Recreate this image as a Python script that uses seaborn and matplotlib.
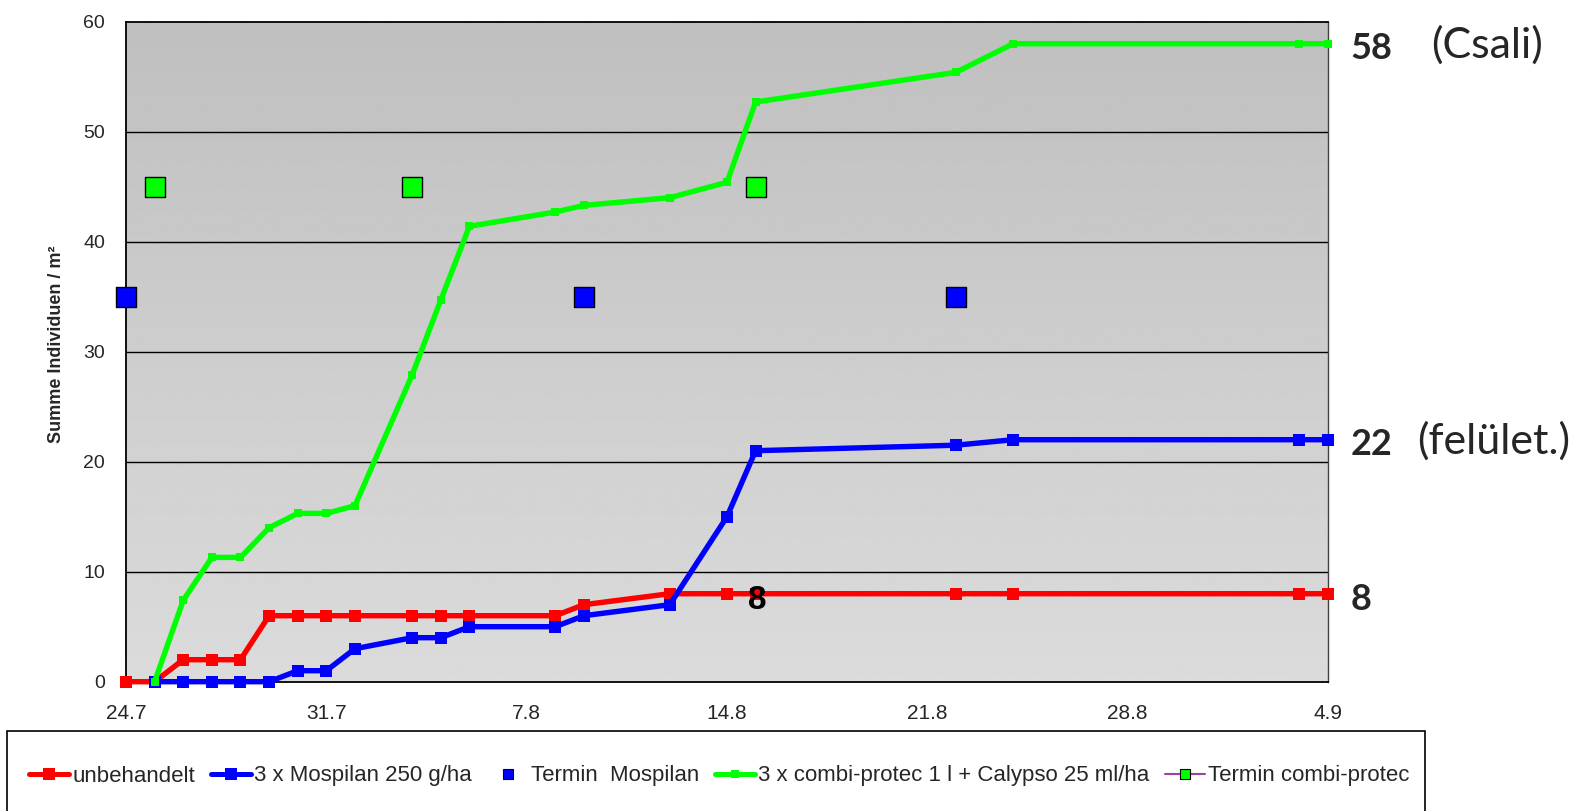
import matplotlib
matplotlib.use('Agg')
import matplotlib.pyplot as plt
from matplotlib.lines import Line2D
from matplotlib.patches import Rectangle
import numpy as np
import pandas as pd
import seaborn as sns

# Boniturtermine (Tag.Monat)
datum_unbeh = ['24.7', '25.7', '26.7', '27.7', '28.7', '29.7', '30.7', '31.7', '1.8', '3.8',
               '4.8', '5.8', '8.8', '9.8', '12.8', '14.8', '15.8', '22.8', '24.8', '3.9', '4.9']
unbehandelt = [0, 0, 2, 2, 2, 6, 6, 6, 6, 6, 6, 6, 6, 7, 8, 8, 8, 8, 8, 8, 8]

datum_beh = ['25.7', '26.7', '27.7', '28.7', '29.7', '30.7', '31.7', '1.8', '3.8', '4.8',
             '5.8', '8.8', '9.8', '12.8', '14.8', '15.8', '22.8', '24.8', '3.9', '4.9']
mospilan = [0, 0, 0, 0, 0, 1, 1, 3, 4, 4, 5, 5, 6, 7, 15, 21, 21.5, 22, 22, 22]
combi = [0, 7.4, 11.3, 11.3, 14, 15.3, 15.3, 16, 27.9, 34.7, 41.4, 42.7, 43.3, 44, 45.4,
         52.7, 55.4, 58, 58, 58]

termin_mospilan = ['24.7', '9.8', '22.8']
termin_mospilan_y = [35, 35, 35]
termin_combi = ['25.7', '3.8', '15.8']
termin_combi_y = [45, 45, 45]

tick_labels = ['24.7', '31.7', '7.8', '14.8', '21.8', '28.8', '4.9']
start = pd.Timestamp('2008-07-24')


def tage(datum):
  d = pd.to_datetime([x + '.2008' for x in datum], format='%d.%m.%Y')
  return np.asarray((d - start).days, dtype=float)


sns.set_style('white')
plt.rcParams['font.family'] = ['Liberation Sans', 'DejaVu Sans']

fig = plt.figure(figsize=(15.85, 8.11), dpi=100)
ax = fig.add_axes([126 / 1585, 1 - 681.7 / 811, (1328 - 126) / 1585, 660 / 811])

# Hintergrund mit Verlauf (oben dunkler)
verlauf = np.linspace(0.75, 0.86, 256).reshape(-1, 1)
ax.imshow(verlauf, extent=[0, 42, 0, 60], aspect='auto', cmap='gray', vmin=0, vmax=1,
          zorder=0, origin='upper')

for y in range(10, 60, 10):
  ax.axhline(y, color='black', lw=1, zorder=1)

linien = [
    (tage(datum_unbeh), unbehandelt, '#ff0000', 8.5, 3),
    (tage(datum_beh), mospilan, '#0000ff', 8.5, 4),
    (tage(datum_beh), combi, '#00ff00', 6, 5),
]
for xs, ys, farbe, ms, z in linien:
  sns.lineplot(x=xs, y=ys, color=farbe, lw=3.9, marker='s', markersize=ms,
               markeredgewidth=0, ax=ax, zorder=z, clip_on=False)

sns.scatterplot(x=tage(termin_mospilan), y=termin_mospilan_y, color='#0000ff', marker='s',
                s=200, edgecolor='black', linewidth=1, ax=ax, zorder=6, clip_on=False)
sns.scatterplot(x=tage(termin_combi), y=termin_combi_y, color='#00ff00', marker='s',
                s=200, edgecolor='black', linewidth=1, ax=ax, zorder=6, clip_on=False)

ax.set_xlim(0, 42)
ax.set_ylim(0, 60)
ax.set_xticks(np.arange(0, 43, 7))
ax.set_xticklabels(tick_labels, fontsize=15)
ax.set_yticks(np.arange(0, 61, 10))
ax.set_yticklabels([str(v) for v in range(0, 61, 10)], fontsize=14)
ax.tick_params(axis='both', direction='out', length=6, width=1, color='black', pad=9)
ax.tick_params(axis='x', pad=10)
ax.set_ylabel('Summe Individuen / m²', fontsize=13, fontweight='bold')
ax.yaxis.set_label_coords(-0.051, 0.512)
for s in ['left', 'bottom', 'top']:
  ax.spines[s].set_color('black')
  ax.spines[s].set_linewidth(1.3)
ax.spines['right'].set_color('#404040')
ax.spines['right'].set_linewidth(1)
for sp in ax.spines.values():
  sp.set_zorder(2)

# Beschriftungen
ax.annotate('8', xy=(22, 8), xytext=(1, -5), textcoords='offset points', ha='center',
            va='center', fontsize=24, fontweight='bold', color='black', zorder=10)
rechts = [(58, '58', '(Csali)', 74, -3.5), (22, '22', '(felület.)', 64, -3.5),
          (8, '8', '', 0, -4)]
for yv, zahl, txt, off, dy in rechts:
  ax.annotate(zahl, xy=(42, yv), xytext=(16, dy), textcoords='offset points', ha='left',
              va='center', fontsize=26, fontweight='bold', family=['Lato', 'DejaVu Sans'],
              annotation_clip=False)
  if txt:
    ax.annotate(txt, xy=(42, yv), xytext=(off, -1), textcoords='offset points', ha='left',
                va='center', fontsize=31, family=['Lato', 'DejaVu Sans'],
                annotation_clip=False)

# Legende
handles = [
    Line2D([], [], color='#ff0000', lw=3.6, marker='s', markersize=8, markeredgewidth=0),
    Line2D([], [], color='#0000ff', lw=3.6, marker='s', markersize=8, markeredgewidth=0),
    Line2D([], [], color='none', marker='s', markersize=7.5, markerfacecolor='#0000ff',
           markeredgecolor='black', markeredgewidth=0.8),
    Line2D([], [], color='#00ff00', lw=3.6, marker='s', markersize=6, markeredgewidth=0),
    Line2D([], [], color='#a040a0', lw=1.5, marker='s', markersize=7.5,
           markerfacecolor='#00ff00', markeredgecolor='black', markeredgewidth=0.8),
]
labels = ['unbehandelt', '3 x Mospilan 250 g/ha', 'Termin  Mospilan',
          '3 x combi-protec 1 l + Calypso 25 ml/ha', 'Termin combi-protec']
fig.add_artist(Rectangle((6.7 / 1585, -0.01), (1425 - 6.7) / 1585, 80 / 811 + 0.01,
                         transform=fig.transFigure, facecolor='white', edgecolor='black',
                         lw=1.2))
fig.legend(handles, labels, loc='center', bbox_to_anchor=(719.5 / 1585, 1 - 776 / 811),
           ncol=5, frameon=False, fontsize=16, handlelength=1.8, handletextpad=0.15,
           columnspacing=0.7, borderpad=0, borderaxespad=0)

fig.savefig('out.png', dpi=100)
